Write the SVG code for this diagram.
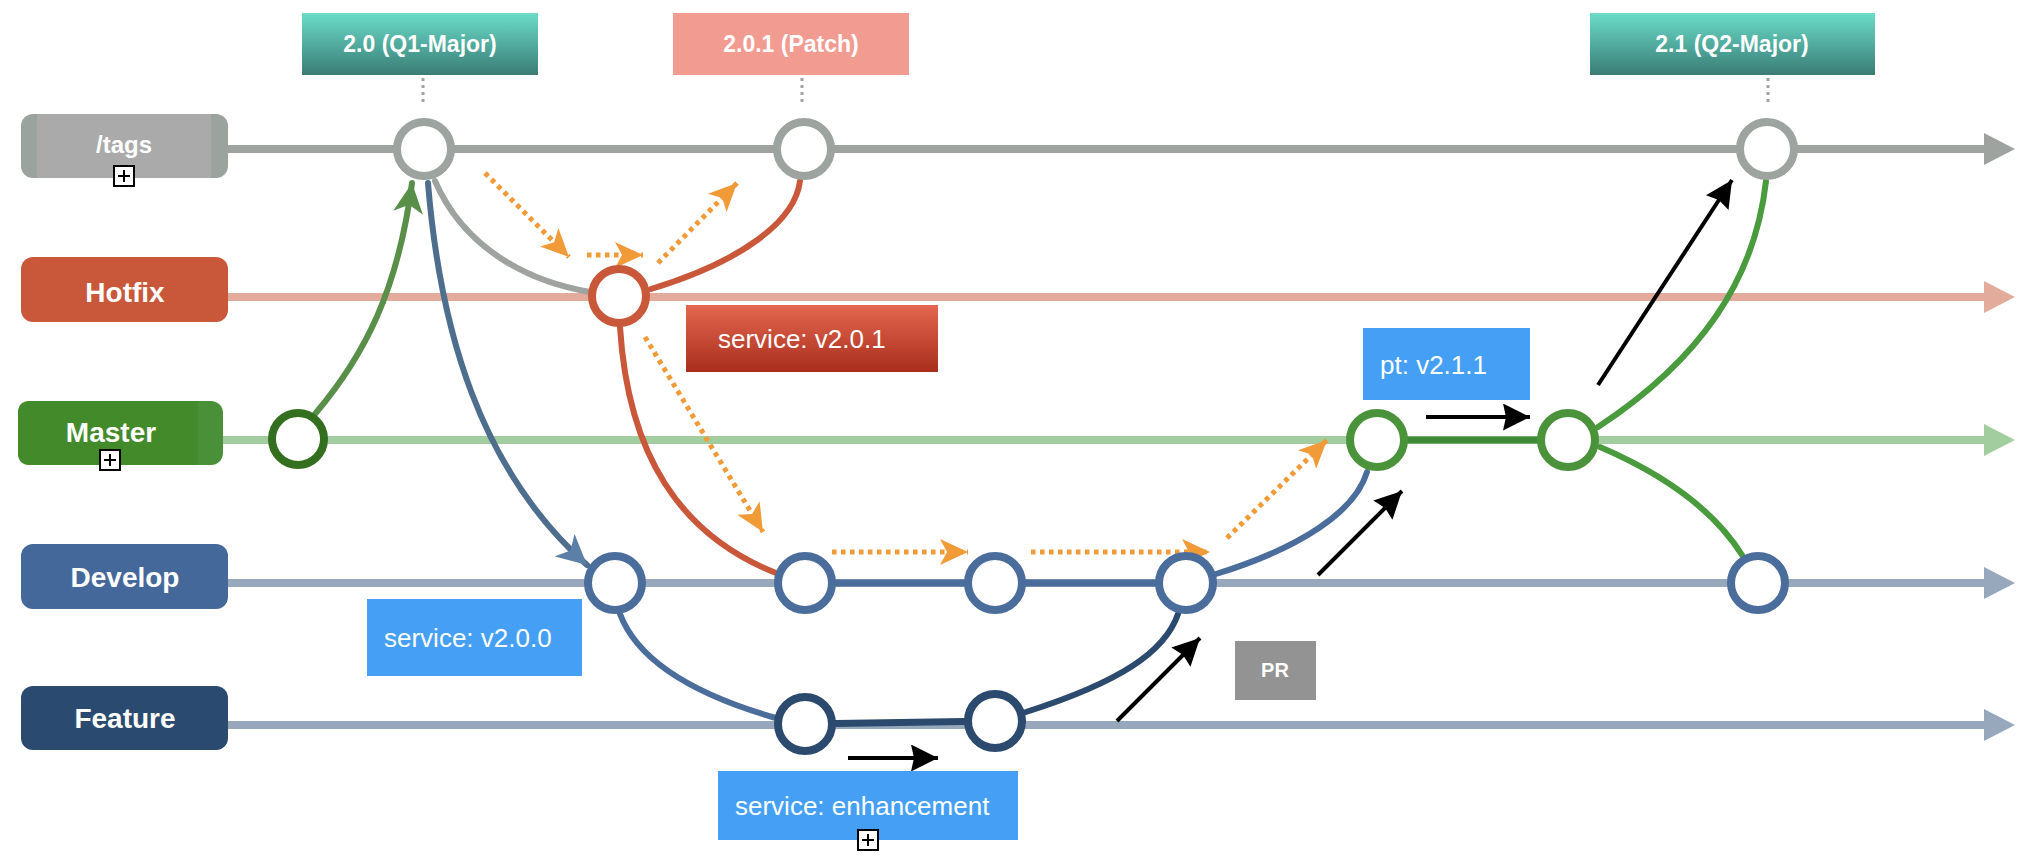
<svg xmlns="http://www.w3.org/2000/svg" width="2030" height="860" viewBox="0 0 2030 860">
<defs>
  <linearGradient id="teal" x1="0" y1="0" x2="0" y2="1">
    <stop offset="0" stop-color="#6adcc8"/>
    <stop offset="1" stop-color="#3a7c76"/>
  </linearGradient>
  <linearGradient id="red" x1="0" y1="0" x2="0" y2="1">
    <stop offset="0" stop-color="#e4674e"/>
    <stop offset="1" stop-color="#a92e1d"/>
  </linearGradient>
  <marker id="mOrange" markerUnits="userSpaceOnUse" markerWidth="28" markerHeight="26" refX="28" refY="13" orient="auto">
    <path d="M0,0 L28,13 L0,26 L7,13 z" fill="#f09a38"/>
  </marker>
  <marker id="mBlack" markerUnits="userSpaceOnUse" markerWidth="27" markerHeight="27" refX="27" refY="13.5" orient="auto">
    <path d="M0,0 L27,13.5 L0,27 L3,13.5 z" fill="#000"/>
  </marker>
  <marker id="mGreen" markerUnits="userSpaceOnUse" markerWidth="30" markerHeight="30" refX="30" refY="15" orient="auto">
    <path d="M0,0 L30,15 L0,30 L8,15 z" fill="#5a8f4a"/>
  </marker>
  <marker id="mBlue" markerUnits="userSpaceOnUse" markerWidth="30" markerHeight="30" refX="30" refY="15" orient="auto">
    <path d="M0,0 L30,15 L0,30 L8,15 z" fill="#5b7fa6"/>
  </marker>
</defs>
<style>
  .lane{fill:none;stroke-width:8}
  .ltxt{font-family:"Liberation Sans",Arial,sans-serif;font-weight:bold;fill:#fff;text-anchor:middle;font-size:28px}
  .ttxt{font-family:"Liberation Sans",Arial,sans-serif;font-weight:bold;fill:#fff;text-anchor:middle;font-size:23px}
  .btxt{font-family:"Liberation Sans",Arial,sans-serif;fill:#fff;font-size:26px}
  .node{fill:#fff;stroke-width:8}
  .curve{fill:none;stroke-width:6;stroke-linecap:round}
  .orange{fill:none;stroke:#f09a38;stroke-width:5;stroke-dasharray:4.5 4.5;marker-end:url(#mOrange)}
  .black{fill:none;stroke:#000;stroke-width:4;marker-end:url(#mBlack)}
  .tagdot{fill:none;stroke:#a0a4a2;stroke-width:3;stroke-dasharray:3 4}
  .plus rect{fill:#fff;stroke:#000;stroke-width:2}
  .plus path{stroke:#000;stroke-width:2;fill:none}
</style>
<rect width="2030" height="860" fill="#fff"/>

<g id="lanes">
  <path class="lane" d="M228,149 L1986,149" stroke="#9ea39f"/>
  <polygon points="1984,133 2015,149 1984,165" fill="#9ea39f"/>
  <path class="lane" d="M228,297 L1986,297" stroke="#e2ab9b"/>
  <polygon points="1984,281 2015,297 1984,313" fill="#e2ab9b"/>
  <path class="lane" d="M223,440 L1986,440" stroke="#a2cd9e"/>
  <polygon points="1984,424 2015,440 1984,456" fill="#a2cd9e"/>
  <path class="lane" d="M228,583 L1986,583" stroke="#98a8bc"/>
  <polygon points="1984,567 2015,583 1984,599" fill="#98a8bc"/>
  <path class="lane" d="M228,725 L1986,725" stroke="#98a8bc"/>
  <polygon points="1984,709 2015,725 1984,741" fill="#98a8bc"/>
</g>

<g id="lane-tags">
  <rect x="21" y="114" width="207" height="64" rx="12" fill="#9aa39e"/>
  <rect x="37" y="114" width="174" height="64" fill="#aaaaaa"/>
  <text class="ltxt" x="124" y="153" style="font-size:24px">/tags</text>
  <g class="plus"><rect x="114" y="166" width="20" height="20"/><path d="M118,176 L130,176 M124,170 L124,182"/></g>
</g>
<g id="lane-hotfix">
  <rect x="21" y="257" width="207" height="65" rx="12" fill="#c9573a"/>
  <text class="ltxt" x="125" y="302">Hotfix</text>
</g>
<g id="lane-master">
  <rect x="18" y="401" width="205" height="64" rx="12" fill="#4a9038"/>
  <path d="M30,401 L198,401 L198,465 L30,465 Q18,465 18,453 L18,413 Q18,401 30,401 z" fill="#428a2a"/>
  <text class="ltxt" x="111" y="442">Master</text>
  <g class="plus"><rect x="100" y="450" width="20" height="20"/><path d="M104,460 L116,460 M110,454 L110,466"/></g>
</g>
<g id="lane-develop">
  <rect x="21" y="544" width="207" height="65" rx="12" fill="#44689a"/>
  <text class="ltxt" x="125" y="587">Develop</text>
</g>
<g id="lane-feature">
  <rect x="21" y="686" width="207" height="64" rx="12" fill="#2b4a6f"/>
  <text class="ltxt" x="125" y="728">Feature</text>
</g>

<g id="connectors">
  <path d="M805,583 L1186,583" stroke="#4a6d9c" stroke-width="7" fill="none"/>
  <path d="M805,724 L995,721" stroke="#2c4a6e" stroke-width="7" fill="none"/>
  <path d="M1377,440 L1568,440" stroke="#3f8a35" stroke-width="7" fill="none"/>
  <path class="curve" d="M315,414 C365,355 398,290 412,183" stroke="#5a8f4a" stroke-width="5" marker-end="url(#mGreen)"/>
  <path class="curve" d="M428,183 C440,330 480,470 587,565" stroke="#4e6e8e" stroke-width="5" marker-end="url(#mBlue)"/>
  <path class="curve" d="M435,181 C465,250 530,282 590,292" stroke="#9ea39f"/>
  <path class="curve" d="M651,289 C740,262 795,222 800,181" stroke="#c9573a"/>
  <path class="curve" d="M620,327 C628,455 680,535 776,573" stroke="#c9573a"/>
  <path class="curve" d="M620,614 C642,672 720,702 776,718" stroke="#4a6d9c"/>
  <path class="curve" d="M1026,712 C1120,682 1165,652 1178,614" stroke="#2c4a6e"/>
  <path class="curve" d="M1216,574 C1300,548 1355,512 1367,472" stroke="#4a6d9c"/>
  <path class="curve" d="M1598,427 C1700,360 1755,280 1766,181" stroke="#4a9a3e"/>
  <path class="curve" d="M1600,447 C1670,477 1715,512 1742,555" stroke="#4a9a3e"/>
  <path class="tagdot" d="M423,78 L423,102"/>
  <path class="tagdot" d="M802,78 L802,102"/>
  <path class="tagdot" d="M1768,78 L1768,102"/>
  <path class="orange" d="M485,173 L569,257"/>
  <path class="orange" d="M587,255 L643,255"/>
  <path class="orange" d="M658,263 L737,183"/>
  <path class="orange" d="M645,337 L763,532"/>
  <path class="orange" d="M832,552 L968,552"/>
  <path class="orange" d="M1031,552 L1210,552"/>
  <path class="orange" d="M1227,538 L1327,440"/>
  <path class="black" d="M848,758 L938,758"/>
  <path class="black" d="M1117,721 L1200,638"/>
  <path class="black" d="M1318,575 L1402,491"/>
  <path class="black" d="M1426,417 L1530,417"/>
  <path class="black" d="M1598,385 L1732,180"/>
</g>

<g id="commit-t1"><circle class="node" cx="424" cy="149" r="27" stroke="#9da39f"/></g>
<g id="commit-t2"><circle class="node" cx="804" cy="149" r="27" stroke="#9da39f"/></g>
<g id="commit-t3"><circle class="node" cx="1767" cy="149" r="27" stroke="#9da39f"/></g>
<g id="commit-h1"><circle class="node" cx="619" cy="296" r="27" stroke="#c9573a"/></g>
<g id="commit-m0"><circle class="node" cx="298" cy="439" r="26" stroke="#336f1f" stroke-width="9"/></g>
<g id="commit-d1"><circle class="node" cx="615" cy="583" r="27" stroke="#4a6d9c"/></g>
<g id="commit-d2"><circle class="node" cx="805" cy="583" r="27" stroke="#4a6d9c"/></g>
<g id="commit-d3"><circle class="node" cx="995" cy="583" r="27" stroke="#4a6d9c"/></g>
<g id="commit-d4"><circle class="node" cx="1186" cy="583" r="27" stroke="#4a6d9c"/></g>
<g id="commit-d5"><circle class="node" cx="1758" cy="583" r="27" stroke="#4a6d9c"/></g>
<g id="commit-f1"><circle class="node" cx="805" cy="724" r="27" stroke="#2c4a6e"/></g>
<g id="commit-f2"><circle class="node" cx="995" cy="721" r="27" stroke="#2c4a6e"/></g>
<g id="commit-m1"><circle class="node" cx="1377" cy="440" r="27" stroke="#4a933a"/></g>
<g id="commit-m2"><circle class="node" cx="1568" cy="440" r="27" stroke="#4a933a"/></g>

<g id="tag-20">
  <rect x="302" y="13" width="236" height="62" fill="url(#teal)"/>
  <text class="ttxt" x="420" y="52">2.0 (Q1-Major)</text>
</g>
<g id="tag-201">
  <rect x="673" y="13" width="236" height="62" fill="#f29b91"/>
  <text class="ttxt" x="791" y="52">2.0.1 (Patch)</text>
</g>
<g id="tag-21">
  <rect x="1590" y="13" width="285" height="62" fill="url(#teal)"/>
  <text class="ttxt" x="1732" y="52">2.1 (Q2-Major)</text>
</g>

<g id="label-v201">
  <rect x="686" y="305" width="252" height="67" fill="url(#red)"/>
  <text class="btxt" x="718" y="348">service: v2.0.1</text>
</g>
<g id="label-v200">
  <rect x="367" y="599" width="215" height="77" fill="#45a0f5"/>
  <text class="btxt" x="384" y="647">service: v2.0.0</text>
</g>
<g id="label-enh">
  <rect x="718" y="771" width="300" height="69" fill="#45a0f5"/>
  <text class="btxt" x="735" y="815">service: enhancement</text>
  <g class="plus"><rect x="858" y="830" width="20" height="20"/><path d="M862,840 L874,840 M868,834 L868,846"/></g>
</g>
<g id="label-pt">
  <rect x="1363" y="328" width="167" height="72" fill="#45a0f5"/>
  <text class="btxt" x="1380" y="374">pt: v2.1.1</text>
</g>
<g id="label-pr">
  <rect x="1235" y="641" width="81" height="59" fill="#939393"/>
  <text class="ttxt" x="1275" y="677" style="font-size:20px">PR</text>
</g>
</svg>
